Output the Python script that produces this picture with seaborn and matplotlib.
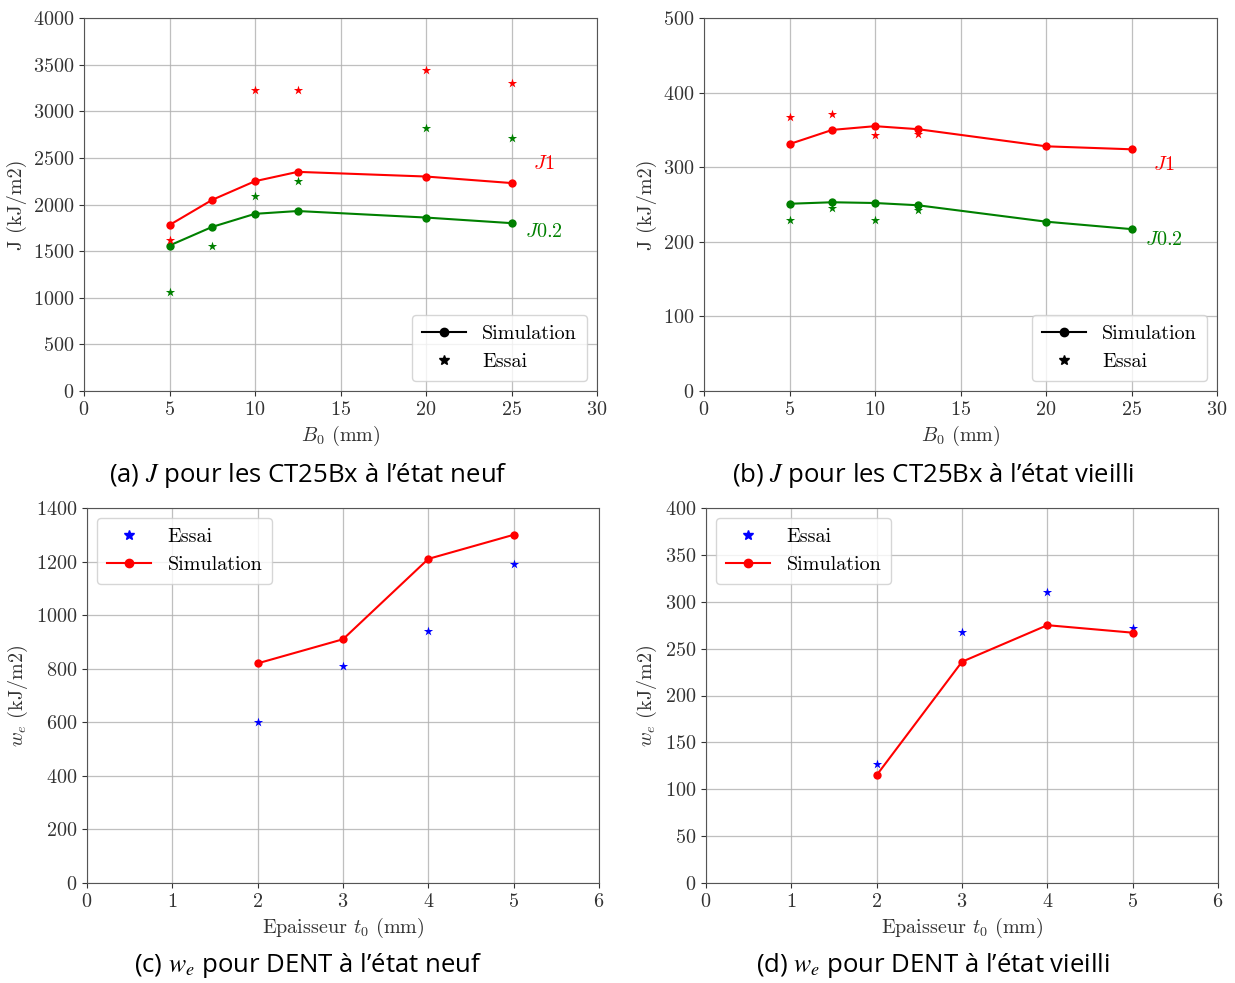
import numpy as np
import pandas as pd
import seaborn as sns
import matplotlib.pyplot as plt
from matplotlib.lines import Line2D


# (a) CT25Bx, etat neuf
b0_sim = [5, 7.5, 10, 12.5, 20, 25]
j1_sim_neuf = [1780, 2050, 2250, 2350, 2300, 2230]
j02_sim_neuf = [1560, 1760, 1900, 1930, 1860, 1800]
b0_essai_j1_neuf = [5, 10, 12.5, 20, 25]
j1_essai_neuf = [1620, 3230, 3230, 3440, 3300]
b0_essai_j02_neuf = [5, 7.5, 10, 12.5, 20, 25]
j02_essai_neuf = [1060, 1550, 2090, 2250, 2820, 2710]

# (b) CT25Bx, etat vieilli
j1_sim_vieux = [331, 350, 355, 351, 328, 324]
j02_sim_vieux = [251, 253, 252, 249, 227, 217]
b0_essai_vieux = [5, 7.5, 10, 12.5]
j1_essai_vieux = [367, 371, 343, 344]
j02_essai_vieux = [229, 245, 229, 243]

# (c) / (d) DENT
t0 = [2, 3, 4, 5]
we_sim_neuf = [820, 910, 1210, 1300]
we_essai_neuf = [600, 810, 940, 1190]
we_sim_vieux = [115, 236, 275, 267]
we_essai_vieux = [127, 268, 310, 272]

captions = [r"(a) $J$ pour les CT25Bx à l’état neuf",
            r"(b) $J$ pour les CT25Bx à l’état vieilli",
            r"(c) $w_e$ pour DENT à l’état neuf",
            r"(d) $w_e$ pour DENT à l’état vieilli"]

plt.rcParams['font.family'] = ['cmr10', 'DejaVu Serif']
plt.rcParams['mathtext.fontset'] = 'cm'
plt.rcParams['axes.formatter.use_mathtext'] = True
plt.rcParams['axes.unicode_minus'] = False

fig = plt.figure(figsize=(12.35, 9.83), dpi=100)
W, H = 1235, 983


def add_ax(left, top, right, bottom):
    return fig.add_axes([left / W, 1 - bottom / H, (right - left) / W, (bottom - top) / H])


ax_a = add_ax(84, 18, 597, 391)
ax_b = add_ax(704, 18, 1217, 391)
ax_c = add_ax(87, 508, 599, 883)
ax_d = add_ax(706, 508, 1218, 883)

ms_sim = 6
ms_star = 7


def sim_line(ax, x, y, color):
    df = pd.DataFrame({'x': x, 'y': y})
    sns.lineplot(df, x='x', y='y', ax=ax, color=color, marker='o', markersize=ms_sim,
                 markeredgewidth=0, linewidth=1.5, legend=False, zorder=3)


def essai(ax, x, y, color):
    df = pd.DataFrame({'x': x, 'y': y})
    sns.scatterplot(df, x='x', y='y', ax=ax, color=color, marker='*', s=ms_star ** 2,
                    linewidth=0, legend=False, zorder=3)


def style(ax, xlim, ylim, xticks, yticks, xlabel, ylabel):
    ax.set_xlim(*xlim)
    ax.set_ylim(*ylim)
    ax.set_xticks(xticks)
    ax.set_yticks(yticks)
    ax.grid(True, color='#b0b0b0', linewidth=0.9, alpha=0.8)
    ax.set_axisbelow(True)
    ax.tick_params(labelsize=14.5, length=3.5, width=0.8, colors='#333333')
    for s in ax.spines.values():
        s.set_color('#555555')
    ax.set_xlabel(xlabel, fontsize=14.5, color='#333333', labelpad=4)
    ax.set_ylabel(ylabel, fontsize=14.5, color='#333333', labelpad=4)


# (a)
sim_line(ax_a, b0_sim, j1_sim_neuf, 'red')
sim_line(ax_a, b0_sim, j02_sim_neuf, 'green')
essai(ax_a, b0_essai_j1_neuf, j1_essai_neuf, 'red')
essai(ax_a, b0_essai_j02_neuf, j02_essai_neuf, 'green')
style(ax_a, (0, 30), (0, 4000), np.arange(0, 31, 5), np.arange(0, 4001, 500),
      r'$B_0$ (mm)', 'J (kJ/m2)')
ax_a.text(26.9, 2430, r'$J1$', color='red', fontsize=14.5, ha='center', va='center')
ax_a.text(26.9, 1710, r'$J0.2$', color='green', fontsize=14.5, ha='center', va='center')

# (b)
sim_line(ax_b, b0_sim, j1_sim_vieux, 'red')
sim_line(ax_b, b0_sim, j02_sim_vieux, 'green')
essai(ax_b, b0_essai_vieux, j1_essai_vieux, 'red')
essai(ax_b, b0_essai_vieux, j02_essai_vieux, 'green')
style(ax_b, (0, 30), (0, 500), np.arange(0, 31, 5), np.arange(0, 501, 100),
      r'$B_0$ (mm)', 'J (kJ/m2)')
ax_b.text(26.9, 303, r'$J1$', color='red', fontsize=14.5, ha='center', va='center')
ax_b.text(26.9, 202, r'$J0.2$', color='green', fontsize=14.5, ha='center', va='center')

handles_ab = [Line2D([], [], color='black', marker='o', markersize=ms_sim, linewidth=1.5),
              Line2D([], [], color='black', marker='*', markersize=ms_star, linestyle='none')]
for ax in (ax_a, ax_b):
    ax.legend(handles_ab, ['Simulation', 'Essai'], loc='lower right', fontsize=14.5,
              handlelength=2.2, borderpad=0.5, labelspacing=0.5)

# (c)
essai(ax_c, t0, we_essai_neuf, 'blue')
sim_line(ax_c, t0, we_sim_neuf, 'red')
style(ax_c, (0, 6), (0, 1400), np.arange(0, 7, 1), np.arange(0, 1401, 200),
      r'Epaisseur $t_0$ (mm)', r'$w_e$ (kJ/m2)')

# (d)
essai(ax_d, t0, we_essai_vieux, 'blue')
sim_line(ax_d, t0, we_sim_vieux, 'red')
style(ax_d, (0, 6), (0, 400), np.arange(0, 7, 1), np.arange(0, 401, 50),
      r'Epaisseur $t_0$ (mm)', r'$w_e$ (kJ/m2)')

handles_cd = [Line2D([], [], color='blue', marker='*', markersize=ms_star, linestyle='none'),
              Line2D([], [], color='red', marker='o', markersize=ms_sim, linewidth=1.5)]
for ax in (ax_c, ax_d):
    ax.legend(handles_cd, ['Essai', 'Simulation'], loc='upper left', fontsize=14.5,
              handlelength=2.2, borderpad=0.5, labelspacing=0.5)

# captions
cap_pos = [(308, 475), (933, 475), (308, 966), (933, 966)]
for (cx, cy), cap in zip(cap_pos, captions):
    fig.text(cx / W, 1 - cy / H, cap, ha='center', va='center', fontsize=18.5,
             family=['Open Sans', 'DejaVu Sans'], math_fontfamily='stix')

fig.savefig('out.png', dpi=100)
